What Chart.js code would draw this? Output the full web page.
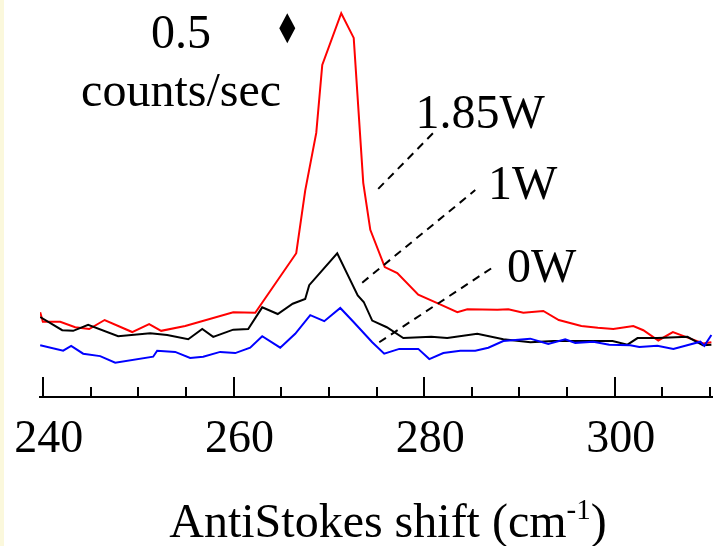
<!DOCTYPE html>
<html lang="en">
<head>
  <meta charset="UTF-8" />
  <title>AntiStokes shift</title>
  <script src="https://cdn.jsdelivr.net/npm/chart.js"></script>
  <style>
    html, body {
      margin: 0;
      padding: 0;
      background: linear-gradient(to right, #fbf8dc 0, #fbf8dc 4px, #ffffff 4px);
    }
    #chart {
      display: block;
    }
  </style>
</head>
<body>
  <canvas id="chart" width="713" height="546"></canvas>

  <script>
    // shift (cm-1) / signal (counts/sec, offset)
    const shift185 = [239.72, 240.0, 241.82, 243.39, 244.86, 246.48, 249.37, 251.15, 252.41, 254.93,
      259.97, 262.28, 266.58, 267.52, 268.68, 269.31, 271.3, 272.61, 273.61, 274.35,
      275.87, 277.18, 279.38, 281.38, 283.48, 284.53, 287.68, 288.83, 290.4, 292.5,
      294.12, 296.49, 298.22, 299.84, 301.94, 302.99, 304.56, 306.09, 307.93, 309.29, 310.13];
    const counts185 = [1.41, 1.25, 1.25, 1.16, 1.13, 1.28, 1.08, 1.21, 1.10, 1.18,
      1.41, 1.40, 2.39, 3.43, 4.39, 5.52, 6.38, 5.97, 3.56, 2.78,
      2.16, 2.06, 1.70, 1.56, 1.41, 1.46, 1.45, 1.46, 1.40, 1.43,
      1.28, 1.18, 1.15, 1.13, 1.18, 1.11, 0.94, 1.08, 0.97, 0.89, 0.91];

    const shift1 = [239.72, 242.03, 243.18, 244.75, 247.9, 251.26, 253.04, 255.25, 256.72, 257.87,
      259.97, 261.54, 263.01, 264.64, 266.21, 267.52, 267.94, 270.88, 273.03, 273.66,
      274.55, 276.08, 277.81, 280.75, 282.42, 285.57, 288.3, 291.15, 293.57, 296.19,
      299.76, 301.33, 302.38, 304.48, 307.62, 309.24, 310.13];
    const counts1 = [1.33, 1.11, 1.10, 1.20, 1.01, 1.06, 1.03, 0.96, 1.13, 1.00,
      1.12, 1.13, 1.49, 1.38, 1.55, 1.63, 1.86, 2.39, 1.69, 1.58,
      1.27, 1.16, 0.98, 1.00, 0.98, 1.05, 0.96, 0.91, 0.93, 0.93,
      0.93, 0.87, 0.98, 0.98, 1.00, 0.86, 0.87];

    const shift0 = [239.72, 242.13, 242.97, 244.23, 246.01, 247.59, 251.57, 251.99, 253.88, 255.45,
      256.82, 258.6, 260.18, 261.75, 263.01, 264.9, 266.47, 268.05, 269.52, 271.2,
      272.57, 274.55, 275.81, 277.39, 279.38, 280.54, 282.01, 283.79, 285.36, 286.73,
      288.3, 291.13, 293.02, 294.8, 295.85, 297.74, 299.42, 301.62, 302.57, 304.46,
      306.14, 308.97, 309.39, 310.13];
    const counts0 = [0.86, 0.77, 0.85, 0.72, 0.68, 0.57, 0.67, 0.77, 0.75, 0.65,
      0.67, 0.75, 0.73, 0.82, 1.01, 0.82, 1.05, 1.36, 1.26, 1.48,
      1.25, 0.91, 0.72, 0.80, 0.80, 0.63, 0.73, 0.77, 0.77, 0.82,
      0.93, 0.97, 0.88, 0.96, 0.90, 0.92, 0.87, 0.86, 0.83, 0.85,
      0.80, 0.92, 0.85, 1.03];

    const tickValues = [240, 245, 250, 255, 260, 265, 270, 275, 280, 285, 290, 295, 300, 305, 310];
    const tickLabels = ['240', '260', '280', '300'];

    // power labels and their dashed leaders, in data units
    const powerLabels = [
      { text: '1.85W', x: 279.1, y: 4.47, from: [275.18, 3.46], to: [280.95, 4.39] },
      { text: '1W', x: 286.7, y: 3.29, from: [273.5, 1.9], to: [285.36, 3.44] },
      { text: '0W', x: 288.7, y: 1.91, from: [275.29, 0.91], to: [287.15, 2.15] }
    ];
    const scaleBar = { x: 265.64, y: 6.13, label: '0.5', unit: 'counts/sec', labelX: 254.5 };

    const serif = 'Liberation Serif';
    Chart.defaults.font.family = serif;

    function toPoints(xs, ys) {
      return xs.map((x, i) => ({ x: x, y: ys[i] }));
    }

    const decorations = {
      id: 'decorations',
      afterDraw(chart) {
        const ctx = chart.ctx;
        const xs = chart.scales.x;
        const ys = chart.scales.y;
        const area = chart.chartArea;

        // inward tick marks
        ctx.save();
        ctx.strokeStyle = '#000';
        ctx.lineWidth = 2;
        tickValues.forEach(v => {
          const px = Math.round(xs.getPixelForValue(v));
          const len = v % 20 === 0 ? 20 : 10;
          ctx.beginPath();
          ctx.moveTo(px, area.bottom);
          ctx.lineTo(px, area.bottom - len);
          ctx.stroke();
        });

        // dashed leaders
        ctx.setLineDash([8, 6]);
        powerLabels.forEach(p => {
          ctx.beginPath();
          ctx.moveTo(xs.getPixelForValue(p.from[0]), ys.getPixelForValue(p.from[1]));
          ctx.lineTo(xs.getPixelForValue(p.to[0]), ys.getPixelForValue(p.to[1]));
          ctx.stroke();
        });
        ctx.setLineDash([]);

        ctx.fillStyle = '#000';
        ctx.font = '48px "' + serif + '"';
        ctx.textBaseline = 'alphabetic';
        ctx.textAlign = 'left';
        powerLabels.forEach(p => {
          ctx.fillText(p.text, xs.getPixelForValue(p.x), ys.getPixelForValue(p.y));
        });

        // scale bar label
        ctx.textAlign = 'center';
        const lx = xs.getPixelForValue(scaleBar.labelX);
        ctx.fillText(scaleBar.label, lx, ys.getPixelForValue(5.8));
        ctx.fillText(scaleBar.unit, lx, ys.getPixelForValue(4.84));

        // diamond marker
        const dx = xs.getPixelForValue(scaleBar.x);
        const dy = ys.getPixelForValue(scaleBar.y);
        ctx.beginPath();
        ctx.moveTo(dx, dy - 15);
        ctx.lineTo(dx + 8, dy);
        ctx.lineTo(dx, dy + 15);
        ctx.lineTo(dx - 8, dy);
        ctx.closePath();
        ctx.fill();

        // axis title with superscript
        const main = 'AntiStokes shift (cm';
        const sup = '-1';
        const tail = ')';
        const big = '48px "' + serif + '"';
        const small = '29px "' + serif + '"';
        ctx.textAlign = 'left';
        ctx.font = big;
        const w1 = ctx.measureText(main).width;
        const w3 = ctx.measureText(tail).width;
        ctx.font = small;
        const w2 = ctx.measureText(sup).width;
        const tx = 388 - (w1 + w2 + w3) / 2;
        const ty = 537;
        ctx.font = big;
        ctx.fillText(main, tx, ty);
        ctx.font = small;
        ctx.fillText(sup, tx + w1, ty - 18);
        ctx.font = big;
        ctx.fillText(tail, tx + w1 + w2, ty);
        ctx.restore();
      }
    };

    const line = (data, color) => ({
      data: data,
      borderColor: color,
      backgroundColor: color,
      borderWidth: 2,
      pointRadius: 0,
      tension: 0,
      fill: false
    });

    new Chart(document.getElementById('chart'), {
      type: 'line',
      data: {
        datasets: [
          line(toPoints(shift0, counts0), '#0000ff'),
          line(toPoints(shift1, counts1), '#000000'),
          line(toPoints(shift185, counts185), '#ff0000')
        ]
      },
      options: {
        responsive: false,
        animation: false,
        devicePixelRatio: 1,
        layout: { padding: { left: 40, right: 0, top: 0, bottom: 0 } },
        plugins: {
          legend: { display: false },
          tooltip: { enabled: false }
        },
        scales: {
          x: {
            type: 'linear',
            min: 239.7,
            max: 310.3,
            afterBuildTicks: s => { s.ticks = tickValues.map(v => ({ value: v })); },
            afterFit: s => { s.height = 149; s.paddingLeft = 0; s.paddingRight = 0; },
            grid: { display: false, drawTicks: false },
            border: { display: true, color: '#000', width: 2 },
            ticks: {
              autoSkip: false,
              maxRotation: 0,
              padding: 15,
              labelOffset: 6,
              color: '#000',
              font: { family: serif, size: 46 },
              callback: v => tickLabels.includes(String(v)) ? String(v) : ''
            }
          },
          y: {
            display: false,
            min: 0,
            max: 6.6
          }
        }
      },
      plugins: [decorations]
    });
  </script>
</body>
</html>
